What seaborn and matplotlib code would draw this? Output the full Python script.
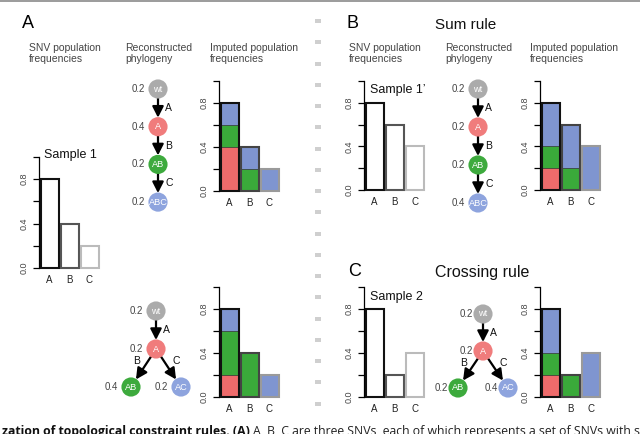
import numpy as np
import pandas as pd
import matplotlib
matplotlib.use("Agg")
import matplotlib.pyplot as plt
import seaborn as sns
from matplotlib.patches import Rectangle

sns.set_theme(style="white")
plt.rcParams["font.family"] = ["Liberation Sans", "DejaVu Sans"]

W, H = 640, 434

# ---------------- data ----------------
cats = ["A", "B", "C"]
snv_sample1 = [0.8, 0.4, 0.2]
snv_sample1p = [0.8, 0.6, 0.4]
snv_sample2 = [0.8, 0.2, 0.4]

# imputed population frequencies: red = clone A, green = clone AB, blue = clone ABC / AC
impA1_red = [0.4, 0.0, 0.0]
impA1_green = [0.2, 0.2, 0.0]
impA1_blue = [0.2, 0.2, 0.2]
impA2_red = [0.2, 0.0, 0.0]
impA2_green = [0.4, 0.4, 0.0]
impA2_blue = [0.2, 0.0, 0.2]
impB_red = [0.2, 0.0, 0.0]
impB_green = [0.2, 0.2, 0.0]
impB_blue = [0.4, 0.4, 0.4]
impC_red = [0.2, 0.0, 0.0]
impC_green = [0.2, 0.2, 0.0]
impC_blue = [0.4, 0.0, 0.4]

chain_nodes = ["wt", "A", "AB", "ABC"]
chain_parents = [None, 0, 1, 2]
chain_edges = [None, "A", "B", "C"]
branch_nodes = ["wt", "A", "AB", "AC"]
branch_parents = [None, 0, 1, 1]
branch_edges = [None, "A", "B", "C"]
treeA1_freq = [0.2, 0.4, 0.2, 0.2]
treeA2_freq = [0.2, 0.2, 0.4, 0.2]
treeB_freq = [0.2, 0.2, 0.2, 0.4]
treeC_freq = [0.2, 0.2, 0.2, 0.4]

ytick_vals = [0.0, 0.2, 0.4, 0.6, 0.8, 1.0]
ytick_labels = ["0.0", "", "0.4", "", "0.8", ""]

# ---------------- style ----------------
RED = "#EE6B6B"
GREEN = "#3AAA3A"
BLUE = "#7F95D0"
NODE_COL = {"wt": "#ABABAB", "A": "#F07C7C", "AB": "#3DAA3D", "ABC": "#8EA4DE", "AC": "#8EA4DE"}
OUTLINE_SNV = ["#111111", "#555555", "#BBBBBB"]
OUTLINE_IMP = ["#111111", "#444444", "#9A9A9A"]

fig = plt.figure(figsize=(W / 100, H / 100), dpi=100)
fig.patch.set_facecolor("white")

ax0 = fig.add_axes([0, 0, 1, 1])
ax0.set_xlim(0, W)
ax0.set_ylim(H, 0)
ax0.axis("off")


def bar_axes(x_axis, y_top, y_bot):
    ax = fig.add_axes([x_axis / W, 1 - y_bot / H, 61 / W, (y_bot - y_top) / H])
    ax.patch.set_alpha(0)
    return ax


def style(ax):
    ax.set_xlim(-0.525, 2.525)
    ax.set_ylim(0, 1)
    for s in ["top", "right", "bottom"]:
        ax.spines[s].set_visible(False)
    ax.spines["left"].set_bounds(0, 1)
    ax.spines["left"].set_linewidth(0.9)
    ax.spines["left"].set_color("black")
    ax.set_yticks(ytick_vals)
    ax.set_yticklabels(ytick_labels)
    ax.tick_params(axis="y", left=True, length=4, width=0.9, pad=3.5,
                   labelsize=6.5, labelcolor="#444444", color="black", direction="out")
    ax.tick_params(axis="x", bottom=False, length=0, pad=5, labelsize=7, labelcolor="#222222")
    for lab in ax.get_yticklabels():
        lab.set_rotation(90)
        lab.set_va("center")
    ax.set_xlabel("")
    ax.set_ylabel("")


def snv_chart(x_axis, y_top, y_bot, vals):
    ax = bar_axes(x_axis, y_top, y_bot)
    df = pd.DataFrame({"mut": cats, "freq": vals})
    sns.barplot(data=df, x="mut", y="freq", order=cats, color="white", saturation=1,
                width=0.9, linewidth=1.5, edgecolor="black", ax=ax)
    for p, ec in zip(ax.patches, OUTLINE_SNV):
        p.set_edgecolor(ec)
        p.set_clip_on(False)
    style(ax)
    return ax


def imputed_chart(x_axis, y_top, y_bot, red, green, blue):
    ax = bar_axes(x_axis, y_top, y_bot)
    red = np.array(red)
    green_top = red + np.array(green)
    blue_top = green_top + np.array(blue)
    for heights, col in [(blue_top, BLUE), (green_top, GREEN), (red, RED)]:
        sns.barplot(x=cats, y=list(heights), order=cats, color=col, saturation=1,
                    width=0.9, linewidth=0.5, edgecolor="#333333", ax=ax)
    n0 = len(ax.patches)
    sns.barplot(x=cats, y=list(blue_top), order=cats, color="black", fill=False,
                width=0.9, linewidth=1.5, ax=ax)
    for p in ax.patches:
        p.set_clip_on(False)
    for p, ec in zip(ax.patches[n0:], OUTLINE_IMP):
        p.set_edgecolor(ec)
        p.set_facecolor("none")
        p.set_linewidth(1.5)
        p.set_zorder(4)
    style(ax)
    return ax


def draw_tree(nodes, parents, edges, freqs, root, dy, dx, gap):
    pos = [root]
    for i in range(1, len(nodes)):
        p = parents[i]
        sibs = [j for j in range(len(nodes)) if parents[j] == p]
        k, n = sibs.index(i), len(sibs)
        pos.append((pos[p][0] + (k - (n - 1) / 2) * 2 * dx, pos[p][1] + dy))
    for i in range(1, len(nodes)):
        p = parents[i]
        (x1, y1), (x2, y2) = pos[p], pos[i]
        ax0.annotate("", xy=(x2, y2), xytext=(x1, y1),
                     arrowprops=dict(arrowstyle="-|>,head_length=0.55,head_width=0.28",
                                     lw=1.6, color="black", shrinkA=6.5, shrinkB=6.5),
                     zorder=2)
        mx, my = (x1 + x2) / 2, (y1 + y2) / 2
        sibs = [j for j in range(len(nodes)) if parents[j] == p]
        if len(sibs) == 1:
            ax0.text(x1 + 7, my, edges[i], ha="left", va="center", fontsize=7.5, color="#111111")
        else:
            off = -6.5 if x2 < x1 else 7.5
            ax0.text(mx + off, my - 6.5, edges[i], ha="center", va="center", fontsize=7.5,
                     color="#111111")
    xs = [q[0] for q in pos]
    ys = [q[1] for q in pos]
    ax0.scatter(xs, ys, s=190, c=[NODE_COL[n] for n in nodes], linewidths=0, zorder=3)
    for (x, y), name, f in zip(pos, nodes, freqs):
        ax0.text(x, y, name, ha="center", va="center", fontsize=6.6, color="white", zorder=4)
        ax0.text(x - gap, y, f"{f:.1f}", ha="right", va="center", fontsize=7, color="#444444")


# ---------------- panel A ----------------
ax0.text(22, 24, "A", fontsize=13, ha="left", va="center", color="black")
for x, t in [(29, "SNV population\nfrequencies"), (125, "Reconstructed\nphylogeny"),
             (210, "Imputed population\nfrequencies")]:
    ax0.text(x, 43, t, fontsize=7.5, ha="left", va="top", color="#444444", linespacing=1.1)
snv_chart(39, 157, 268, snv_sample1)
ax0.text(44, 155, "Sample 1", fontsize=9, ha="left", va="center", color="#111111")
draw_tree(chain_nodes, chain_parents, chain_edges, treeA1_freq, (158, 89), 37.7, 0, 13)
imputed_chart(219, 81, 190.7, impA1_red, impA1_green, impA1_blue)
draw_tree(branch_nodes, branch_parents, branch_edges, treeA2_freq, (156, 311), 38, 25, 13)
imputed_chart(219, 287, 396.7, impA2_red, impA2_green, impA2_blue)

# ---------------- panel B ----------------
ax0.text(347, 24, "B", fontsize=13, ha="left", va="center", color="black")
ax0.text(435, 25, "Sum rule", fontsize=11, ha="left", va="center", color="#111111")
for x, t in [(349, "SNV population\nfrequencies"), (445, "Reconstructed\nphylogeny"),
             (530, "Imputed population\nfrequencies")]:
    ax0.text(x, 43, t, fontsize=7.5, ha="left", va="top", color="#444444", linespacing=1.1)
snv_chart(364, 81, 190, snv_sample1p)
ax0.text(370, 90, "Sample 1\u2019", fontsize=9, ha="left", va="center", color="#111111")
draw_tree(chain_nodes, chain_parents, chain_edges, treeB_freq, (478, 89), 38, 0, 13)
imputed_chart(540, 81, 190, impB_red, impB_green, impB_blue)

# ---------------- panel C ----------------
ax0.text(348, 272, "C", fontsize=13, ha="left", va="center", color="black")
ax0.text(435, 273, "Crossing rule", fontsize=11.5, ha="left", va="center", color="#111111")
snv_chart(364, 287, 397, snv_sample2)
ax0.text(370, 297, "Sample 2", fontsize=9, ha="left", va="center", color="#111111")
draw_tree(branch_nodes, branch_parents, branch_edges, treeC_freq, (483, 314), 37, 25, 10)
imputed_chart(540, 287, 397, impC_red, impC_green, impC_blue)

# ---------------- decorations ----------------
ax0.axhline(0.6, color="#8a8a8a", lw=1.2)
for y in np.arange(19, 404, 21.25):
    ax0.add_patch(Rectangle((315, y), 6, 4, color="#cfcfcf", lw=0))

cap_bold = ax0.text(2, 435, "zation of topological constraint rules. (A)", fontsize=8.8,
                    fontweight="bold", family=["Open Sans", "DejaVu Sans"], ha="left",
                    va="baseline", color="#111111")
fig.canvas.draw()
bb = cap_bold.get_window_extent()
ax0.text(bb.x1 + 3.5, 435, "A, B, C are three SNVs, each of which represents a set of SNVs with similar",
         fontsize=8.8, family=["Open Sans", "DejaVu Sans"], ha="left", va="baseline",
         color="#222222")

fig.savefig("out.png", dpi=100)
